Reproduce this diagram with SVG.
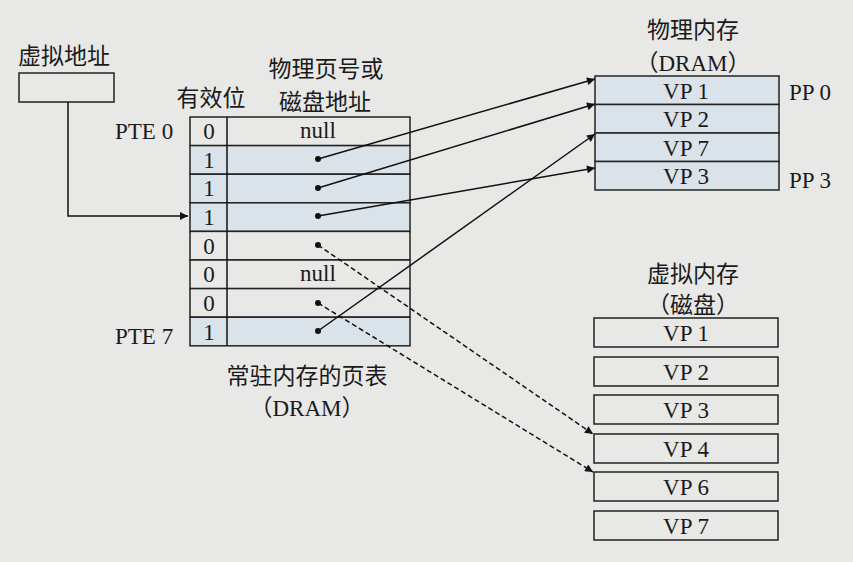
<svg xmlns="http://www.w3.org/2000/svg" width="853" height="562" viewBox="0 0 853 562">
<style>
.t{font-family:"Liberation Serif","Noto Sans CJK SC",serif;font-size:23px;fill:#1a1a1a}
.c{font-family:"Noto Sans CJK SC","Liberation Serif",sans-serif;font-size:23px;fill:#1a1a1a}
.m{text-anchor:middle}
.cell{fill:#e8e8e6;stroke:#222;stroke-width:1.5}
.sh{fill:#dbe3ea;stroke:#222;stroke-width:1.5}
.ln{fill:none;stroke:#111;stroke-width:1.5}
.ds{fill:none;stroke:#111;stroke-width:1.5;stroke-dasharray:5 3}
</style>
<defs>
<marker id="ah" viewBox="0 0 10 10" refX="10" refY="5" markerWidth="10" markerHeight="8" markerUnits="userSpaceOnUse" orient="auto">
<path d="M0,0 L10,5 L0,10 z" fill="#111"/>
</marker>
</defs>
<rect width="853" height="562" fill="#e8e8e6"/>

<g id="vaddr">
<text class="c" x="18" y="64">虚拟地址</text>
<rect class="cell" x="19" y="73" width="95" height="29"/>
</g>

<g id="pagetable">
<text class="c m" x="211" y="106">有效位</text>
<text class="c m" x="326" y="77">物理页号或</text>
<text class="c m" x="325" y="110">磁盘地址</text>
<text class="t" x="115" y="139">PTE 0</text>
<text class="t" x="115" y="344">PTE 7</text>
<rect class="cell" x="190" y="117" width="220" height="28.6"/>
<rect class="sh" x="190" y="145.6" width="220" height="28.6"/>
<rect class="sh" x="190" y="174.2" width="220" height="28.6"/>
<rect class="sh" x="190" y="202.8" width="220" height="28.6"/>
<rect class="cell" x="190" y="231.4" width="220" height="28.6"/>
<rect class="cell" x="190" y="260" width="220" height="28.6"/>
<rect class="cell" x="190" y="288.6" width="220" height="28.6"/>
<rect class="sh" x="190" y="317.2" width="220" height="28.6"/>
<line class="ln" x1="227" y1="117" x2="227" y2="345.8"/>
<g class="t m">
<text x="209" y="139">0</text>
<text x="209" y="168">1</text>
<text x="209" y="196">1</text>
<text x="209" y="225">1</text>
<text x="209" y="254">0</text>
<text x="209" y="282">0</text>
<text x="209" y="311">0</text>
<text x="209" y="340">1</text>
<text x="318" y="138">null</text>
<text x="318" y="281">null</text>
</g>
<g fill="#111">
<circle cx="318" cy="159" r="3"/>
<circle cx="318" cy="188" r="3"/>
<circle cx="318" cy="216" r="3"/>
<circle cx="318" cy="245" r="3"/>
<circle cx="318" cy="303" r="3"/>
<circle cx="318" cy="331" r="3"/>
</g>
<text class="c m" x="307" y="384">常驻内存的页表</text>
<text class="t m" x="307" y="416">（DRAM）</text>
</g>

<g id="physmem">
<text class="c m" x="693" y="38">物理内存</text>
<text class="t m" x="693" y="71">（DRAM）</text>
<rect class="sh" x="595" y="76" width="184" height="28.5"/>
<rect class="sh" x="595" y="104.5" width="184" height="28.5"/>
<rect class="sh" x="595" y="133" width="184" height="28.5"/>
<rect class="sh" x="595" y="161.5" width="184" height="28.5"/>
<g class="t m">
<text x="686" y="99">VP 1</text>
<text x="686" y="127">VP 2</text>
<text x="686" y="156">VP 7</text>
<text x="686" y="184">VP 3</text>
</g>
<text class="t" x="789" y="100">PP 0</text>
<text class="t" x="789" y="188">PP 3</text>
</g>

<g id="diskmem">
<text class="c m" x="693" y="282">虚拟内存</text>
<text class="c m" x="693" y="313">（磁盘）</text>
<rect class="cell" x="594" y="318" width="184" height="29"/>
<rect class="cell" x="594" y="357" width="184" height="29"/>
<rect class="cell" x="594" y="395" width="184" height="29"/>
<rect class="cell" x="594" y="434" width="184" height="29"/>
<rect class="cell" x="594" y="472" width="184" height="29"/>
<rect class="cell" x="594" y="511" width="184" height="29"/>
<g class="t m">
<text x="686" y="341">VP 1</text>
<text x="686" y="380">VP 2</text>
<text x="686" y="418">VP 3</text>
<text x="686" y="457">VP 4</text>
<text x="686" y="495">VP 6</text>
<text x="686" y="534">VP 7</text>
</g>
</g>

<g id="connectors">
<polyline class="ln" points="68,102 68,216 188,216" marker-end="url(#ah)"/>
<line class="ln" x1="318" y1="159" x2="595" y2="79" marker-end="url(#ah)"/>
<line class="ln" x1="318" y1="188" x2="595" y2="104" marker-end="url(#ah)"/>
<line class="ln" x1="318" y1="216" x2="595" y2="168" marker-end="url(#ah)"/>
<line class="ln" x1="318" y1="331" x2="595" y2="134" marker-end="url(#ah)"/>
<line class="ds" x1="318" y1="245" x2="593" y2="434" marker-end="url(#ah)"/>
<line class="ds" x1="318" y1="303" x2="593" y2="472" marker-end="url(#ah)"/>
</g>
</svg>
